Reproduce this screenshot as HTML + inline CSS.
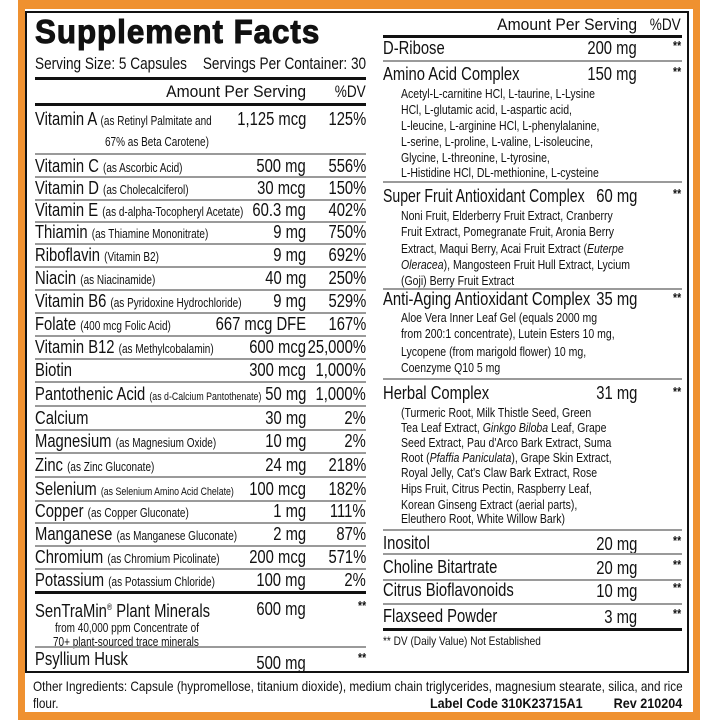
<!DOCTYPE html>
<html><head><meta charset="utf-8"><style>
body{margin:0;width:720px;height:720px;background:#fff;position:relative;overflow:hidden;font-family:"Liberation Sans",Arial,sans-serif;color:#111}
div{position:absolute;white-space:nowrap}
#or{left:18px;top:0;width:682px;height:720px;background:#ef9130}
#wh{left:25px;top:9px;width:668px;height:703px;background:#fff}
#bx{left:25px;top:11px;width:660px;height:658px;border:2px solid #111}
.n,.N{font-size:18.5px;line-height:20px;transform:scaleX(.8);transform-origin:0 50%}
.n{left:35px}.N{left:383px}
.n small,.N small{font-size:12.5px}
.a,.d,.A,.D{font-size:18.5px;line-height:20px;transform:scaleX(.8);transform-origin:100% 50%;text-align:right}
.a{right:414px}.d{right:354px}.A{right:83px}.D{right:39px}
.st{font-size:13px;font-weight:bold}
.S{left:401px;font-size:12.5px;line-height:16px;transform:scaleX(.84);transform-origin:0 50%}
.g{height:2px;background:#9a9a9a}
.k{height:3px;background:#111}
.L{left:35px;width:331px}.R{left:383px;width:299px}
</style></head><body>
<div id="or"></div><div id="wh"></div><div id="bx"></div>

<div style="left:35px;top:14px;font-size:33px;line-height:36px;font-weight:900;letter-spacing:1px;-webkit-text-stroke:1px #111;transform:scaleX(.95);transform-origin:0 50%">Supplement Facts</div>
<div class="n" style="top:54px;font-size:17px">Serving Size: 5 Capsules</div>
<div class="a" style="top:54px;right:354px;font-size:17px">Servings Per Container: 30</div>
<div class="k L" style="top:77px"></div>
<div class="a" style="top:82px;right:414px;font-size:17px;transform:scaleX(.92)">Amount Per Serving</div>
<div class="d" style="top:82px;font-size:17px">%DV</div>
<div class="k L" style="top:103px"></div>

<div class="n" style="top:109px">Vitamin A <small>(as Retinyl Palmitate and</small></div>
<div class="a" style="top:109px">1,125 mcg</div><div class="d" style="top:109px">125%</div>
<div class="n" style="top:130px;left:105px"><small>67% as Beta Carotene)</small></div>
<div class="g L" style="top:153px"></div>

<div class="n" style="top:156px">Vitamin C <small>(as Ascorbic Acid)</small></div><div class="a" style="top:156px">500 mg</div><div class="d" style="top:156px">556%</div>
<div class="g L" style="top:176px"></div>
<div class="n" style="top:178px">Vitamin D <small>(as Cholecalciferol)</small></div><div class="a" style="top:178px">30 mcg</div><div class="d" style="top:178px">150%</div>
<div class="g L" style="top:199px"></div>
<div class="n" style="top:200px">Vitamin E <small>(as d-alpha-Tocopheryl Acetate)</small></div><div class="a" style="top:200px">60.3 mg</div><div class="d" style="top:200px">402%</div>
<div class="g L" style="top:221px"></div>
<div class="n" style="top:222px">Thiamin <small>(as Thiamine Mononitrate)</small></div><div class="a" style="top:222px">9 mg</div><div class="d" style="top:222px">750%</div>
<div class="g L" style="top:243px"></div>
<div class="n" style="top:245px">Riboflavin <small>(Vitamin B2)</small></div><div class="a" style="top:245px">9 mg</div><div class="d" style="top:245px">692%</div>
<div class="g L" style="top:266px"></div>
<div class="n" style="top:268px">Niacin <small>(as Niacinamide)</small></div><div class="a" style="top:268px">40 mg</div><div class="d" style="top:268px">250%</div>
<div class="g L" style="top:289px"></div>
<div class="n" style="top:291px">Vitamin B6 <small>(as Pyridoxine Hydrochloride)</small></div><div class="a" style="top:291px">9 mg</div><div class="d" style="top:291px">529%</div>
<div class="g L" style="top:312px"></div>
<div class="n" style="top:314px">Folate <small>(400 mcg Folic Acid)</small></div><div class="a" style="top:314px">667 mcg DFE</div><div class="d" style="top:314px">167%</div>
<div class="g L" style="top:335px"></div>
<div class="n" style="top:337px">Vitamin B12 <small>(as Methylcobalamin)</small></div><div class="a" style="top:337px">600 mcg</div><div class="d" style="top:337px">25,000%</div>
<div class="g L" style="top:358px"></div>
<div class="n" style="top:360px">Biotin</div><div class="a" style="top:360px">300 mcg</div><div class="d" style="top:360px">1,000%</div>
<div class="g L" style="top:381px"></div>
<div class="n" style="top:384px">Pantothenic Acid <small style="font-size:11px">(as d-Calcium Pantothenate)</small></div><div class="a" style="top:384px">50 mg</div><div class="d" style="top:384px">1,000%</div>
<div class="g L" style="top:405px"></div>
<div class="n" style="top:408px">Calcium</div><div class="a" style="top:408px">30 mg</div><div class="d" style="top:408px">2%</div>
<div class="g L" style="top:429px"></div>
<div class="n" style="top:431px">Magnesium <small>(as Magnesium Oxide)</small></div><div class="a" style="top:431px">10 mg</div><div class="d" style="top:431px">2%</div>
<div class="g L" style="top:452px"></div>
<div class="n" style="top:455px">Zinc <small>(as Zinc Gluconate)</small></div><div class="a" style="top:455px">24 mg</div><div class="d" style="top:455px">218%</div>
<div class="g L" style="top:476px"></div>
<div class="n" style="top:479px">Selenium <small style="font-size:11px">(as Selenium Amino Acid Chelate)</small></div><div class="a" style="top:479px">100 mcg</div><div class="d" style="top:479px">182%</div>
<div class="g L" style="top:500px"></div>
<div class="n" style="top:501px">Copper <small>(as Copper Gluconate)</small></div><div class="a" style="top:501px">1 mg</div><div class="d" style="top:501px">111%</div>
<div class="g L" style="top:522px"></div>
<div class="n" style="top:524px">Manganese <small>(as Manganese Gluconate)</small></div><div class="a" style="top:524px">2 mg</div><div class="d" style="top:524px">87%</div>
<div class="g L" style="top:545px"></div>
<div class="n" style="top:547px">Chromium <small>(as Chromium Picolinate)</small></div><div class="a" style="top:547px">200 mcg</div><div class="d" style="top:547px">571%</div>
<div class="g L" style="top:568px"></div>
<div class="n" style="top:570px">Potassium <small>(as Potassium Chloride)</small></div><div class="a" style="top:570px">100 mg</div><div class="d" style="top:570px">2%</div>
<div class="k L" style="top:591px"></div>
<div class="n" style="top:597px">SenTraMin<sup style="font-size:9px">®</sup> Plant Minerals</div><div class="a" style="top:599px">600 mg</div><div class="d st" style="top:596px">**</div>
<div class="n" style="top:616px;left:55px"><small>from 40,000 ppm Concentrate of</small></div>
<div class="n" style="top:630px;left:53px"><small>70+ plant-sourced trace minerals</small></div>
<div class="g L" style="top:646px"></div>
<div class="n" style="top:649px">Psyllium Husk</div><div class="a" style="top:653px">500 mg</div><div class="d st" style="top:648px">**</div>

<!-- right column -->
<div class="A" style="top:15px;right:83px;font-size:17px;transform:scaleX(.92)">Amount Per Serving</div>
<div class="D" style="top:15px;font-size:17px">%DV</div>
<div class="k R" style="top:35px"></div>
<div class="N" style="top:38px">D-Ribose</div><div class="A" style="top:38px">200 mg</div><div class="D st" style="top:36px">**</div>
<div class="g R" style="top:60px"></div>
<div class="N" style="top:64px">Amino Acid Complex</div><div class="A" style="top:64px">150 mg</div><div class="D st" style="top:62px">**</div>
<div class="S" style="top:86px">Acetyl-L-carnitine HCl, L-taurine, L-Lysine</div>
<div class="S" style="top:102px">HCl, L-glutamic acid, L-aspartic acid,</div>
<div class="S" style="top:118px">L-leucine, L-arginine HCl, L-phenylalanine,</div>
<div class="S" style="top:134px">L-serine, L-proline, L-valine, L-isoleucine,</div>
<div class="S" style="top:150px">Glycine, L-threonine, L-tyrosine,</div>
<div class="S" style="top:165px">L-Histidine HCl, DL-methionine, L-cysteine</div>
<div class="g R" style="top:181px"></div>
<div class="N" style="top:186px;transform:scaleX(.76)">Super Fruit Antioxidant Complex</div><div class="A" style="top:186px">60 mg</div><div class="D st" style="top:184px">**</div>
<div class="S" style="top:208px">Noni Fruit, Elderberry Fruit Extract, Cranberry</div>
<div class="S" style="top:224px">Fruit Extract, Pomegranate Fruit, Aronia Berry</div>
<div class="S" style="top:241px">Extract, Maqui Berry, Acai Fruit Extract (<i>Euterpe</i></div>
<div class="S" style="top:257px"><i>Oleracea</i>), Mangosteen Fruit Hull Extract, Lycium</div>
<div class="S" style="top:273px">(Goji) Berry Fruit Extract</div>
<div class="g R" style="top:288px"></div>
<div class="N" style="top:289px">Anti-Aging Antioxidant Complex</div><div class="A" style="top:289px">35 mg</div><div class="D st" style="top:288px">**</div>
<div class="S" style="top:310px">Aloe Vera Inner Leaf Gel (equals 2000 mg</div>
<div class="S" style="top:326px">from 200:1 concentrate), Lutein Esters 10 mg,</div>
<div class="S" style="top:344px">Lycopene (from marigold flower) 10 mg,</div>
<div class="S" style="top:360px">Coenzyme Q10 5 mg</div>
<div class="g R" style="top:378px"></div>
<div class="N" style="top:383px">Herbal Complex</div><div class="A" style="top:383px">31 mg</div><div class="D st" style="top:382px">**</div>
<div class="S" style="top:405px">(Turmeric Root, Milk Thistle Seed, Green</div>
<div class="S" style="top:420px">Tea Leaf Extract, <i>Ginkgo Biloba</i> Leaf, Grape</div>
<div class="S" style="top:435px">Seed Extract, Pau d'Arco Bark Extract, Suma</div>
<div class="S" style="top:450px">Root (<i>Pfaffia Paniculata</i>), Grape Skin Extract,</div>
<div class="S" style="top:465px">Royal Jelly, Cat's Claw Bark Extract, Rose</div>
<div class="S" style="top:481px">Hips Fruit, Citrus Pectin, Raspberry Leaf,</div>
<div class="S" style="top:497px">Korean Ginseng Extract (aerial parts),</div>
<div class="S" style="top:511px">Eleuthero Root, White Willow Bark)</div>
<div class="g R" style="top:529px"></div>
<div class="N" style="top:533px">Inositol</div><div class="A" style="top:534px">20 mg</div><div class="D st" style="top:531px">**</div>
<div class="g R" style="top:553px"></div>
<div class="N" style="top:557px">Choline Bitartrate</div><div class="A" style="top:558px">20 mg</div><div class="D st" style="top:555px">**</div>
<div class="g R" style="top:579px"></div>
<div class="N" style="top:580px">Citrus Bioflavonoids</div><div class="A" style="top:581px">10 mg</div><div class="D st" style="top:578px">**</div>
<div class="g R" style="top:603px"></div>
<div class="N" style="top:606px">Flaxseed Powder</div><div class="A" style="top:607px">3 mg</div><div class="D st" style="top:604px">**</div>
<div class="k R" style="top:628px"></div>
<div class="S" style="top:633px;left:383px;font-size:12px">** DV (Daily Value) Not Established</div>

<div style="left:33px;top:678px;font-size:14px;line-height:17px;transform:scaleX(.84);transform-origin:0 50%">Other Ingredients: Capsule (hypromellose, titanium dioxide), medium chain triglycerides, magnesium stearate, silica, and rice</div>
<div style="left:33px;top:695px;font-size:14px;line-height:17px;transform:scaleX(.84);transform-origin:0 50%">flour.</div>
<div style="right:137px;top:695px;font-size:14px;line-height:17px;font-weight:bold;transform:scaleX(.9);transform-origin:100% 50%">Label Code 310K23715A1</div>
<div style="right:38px;top:695px;font-size:14px;line-height:17px;font-weight:bold;transform:scaleX(.9);transform-origin:100% 50%">Rev 210204</div>
</body></html>
